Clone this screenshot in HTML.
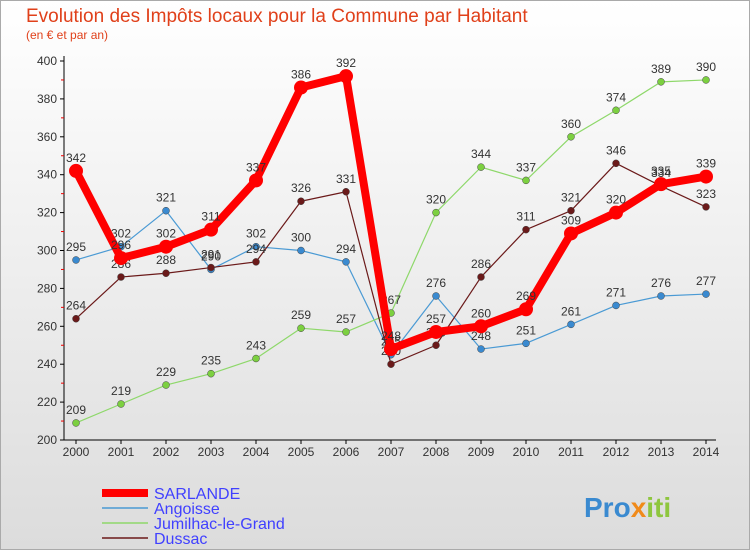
<!DOCTYPE html>
<html><head><meta charset="utf-8"><style>
body{margin:0;background:#fff;}
svg{font-family:"Liberation Sans",sans-serif;display:block}
</style></head><body>
<svg width="750" height="550" viewBox="0 0 750 550" xmlns="http://www.w3.org/2000/svg" id="chart">
<defs>
<linearGradient id="bg" x1="0" y1="0" x2="0" y2="1"><stop offset="0" stop-color="#ffffff"/><stop offset="1" stop-color="#dcdcdc"/></linearGradient>
</defs>
<rect x="0.5" y="0.5" width="749" height="549" fill="url(#bg)" stroke="#aaa"/>
<text x="26" y="22" font-size="19" fill="#e0401a">Evolution des Impôts locaux pour la Commune par Habitant</text>
<text x="26" y="39" font-size="12" fill="#e0401a">(en € et par an)</text>
<g id="axes"></g>
<g id="series"></g>
<g id="legend">
<line x1="102" y1="493" x2="148" y2="493" stroke="#f00" stroke-width="8"/>
<text x="154" y="499" font-size="16" fill="#4040ff">SARLANDE</text>
<line x1="102" y1="508" x2="148" y2="508" stroke="#4a9ad4" stroke-width="1.5"/>
<text x="154" y="514" font-size="16" fill="#4040ff">Angoisse</text>
<line x1="102" y1="523" x2="148" y2="523" stroke="#8ed86a" stroke-width="1.5"/>
<text x="154" y="529" font-size="16" fill="#4040ff">Jumilhac-le-Grand</text>
<line x1="102" y1="538" x2="148" y2="538" stroke="#6b1a1a" stroke-width="1.5"/>
<text x="154" y="544" font-size="16" fill="#4040ff">Dussac</text>
</g>
<g>
<text x="584" y="517" font-size="28" font-weight="bold" fill="#3a8ad0">Pro<tspan fill="#f08a1a">x</tspan><tspan fill="#8ec63f">iti</tspan></text>
</g>
</svg>
<script>
const years=[2000,2001,2002,2003,2004,2005,2006,2007,2008,2009,2010,2011,2012,2013,2014];
const yTicks=[200,220,240,260,280,300,320,340,360,380,400];
const sarlande=[342,296,302,311,337,386,392,248,257,260,269,309,320,335,339];
const angoisse=[295,302,321,290,302,300,294,245,276,248,251,261,271,276,277];
const jumilhac=[209,219,229,235,243,259,257,267,320,344,337,360,374,389,390];
const dussac=[264,286,288,291,294,326,331,240,250,286,311,321,346,334,323];
const NS="http://www.w3.org/2000/svg";
const X0=76,X1=706,Y0=440,Y1=61;
function xs(i){return X0+(X1-X0)*i/(years.length-1);}
function ys(v){return Y0-(v-200)/(400-200)*(Y0-Y1);}
function mk(tag,attrs,parent){const e=document.createElementNS(NS,tag);for(const k in attrs)e.setAttribute(k,attrs[k]);parent.appendChild(e);return e;}
const axes=document.getElementById('axes');
let yl=mk('line',{x1:X0-12,y1:Y1-5,x2:X0-12,y2:Y0,stroke:'#000'},axes);


let xl=mk('line',{x1:X0-12,y1:Y0,x2:X1+10,y2:Y0,stroke:'#000'},axes);


yTicks.forEach((t,k)=>{
  const y=ys(t);
  mk('line',{x1:X0-16,y1:y,x2:X0-12,y2:y,stroke:'#000'},axes);
  if(k<yTicks.length-1){mk('line',{x1:X0-15,y1:ys(t+10),x2:X0-12,y2:ys(t+10),stroke:'#e00'},axes);}
  const tx=mk('text',{x:X0-19,y:y+4,'font-size':12,'text-anchor':'end',fill:'#333'},axes);
  tx.textContent=t;
  
  
});
years.forEach((yr,i)=>{
  const x=xs(i);
  mk('line',{x1:x,y1:Y0,x2:x,y2:Y0+4,stroke:'#000'},axes);
  const tx=mk('text',{x:x,y:Y0+16,'font-size':12,'text-anchor':'middle',fill:'#333'},axes);
  tx.textContent=yr;
  
  
});
const sg=document.getElementById('series');
function draw(data,name,color,w,r,dot){
  const g=mk('g',{},sg);
  
  
  const pts=data.map((v,i)=>xs(i)+','+ys(v)).join(' ');
  const pl=mk('polyline',{points:pts,fill:'none',stroke:color,'stroke-width':w,'stroke-linejoin':'round'},g);
  
  
  data.forEach((v,i)=>{
    const c=mk('circle',{cx:xs(i),cy:ys(v),r:r,fill:dot,stroke:'#444','stroke-width':w>3?0:0.5},g);
    
    
    const t=mk('text',{x:xs(i),y:ys(v)-9,'font-size':12,'text-anchor':'middle',fill:'#333'},g);
    t.textContent=v;
    
    
  });
}
draw(angoisse,'angoisse','#4a9ad4',1.2,3.5,'#3a8ad0');
draw(jumilhac,'jumilhac','#8ed86a',1.2,3.5,'#7cd040');
draw(dussac,'dussac','#6b1a1a',1.2,3.5,'#6b1a1a');
draw(sarlande,'sarlande','#f00',8,7,'#f00');
</script>
</body></html>
